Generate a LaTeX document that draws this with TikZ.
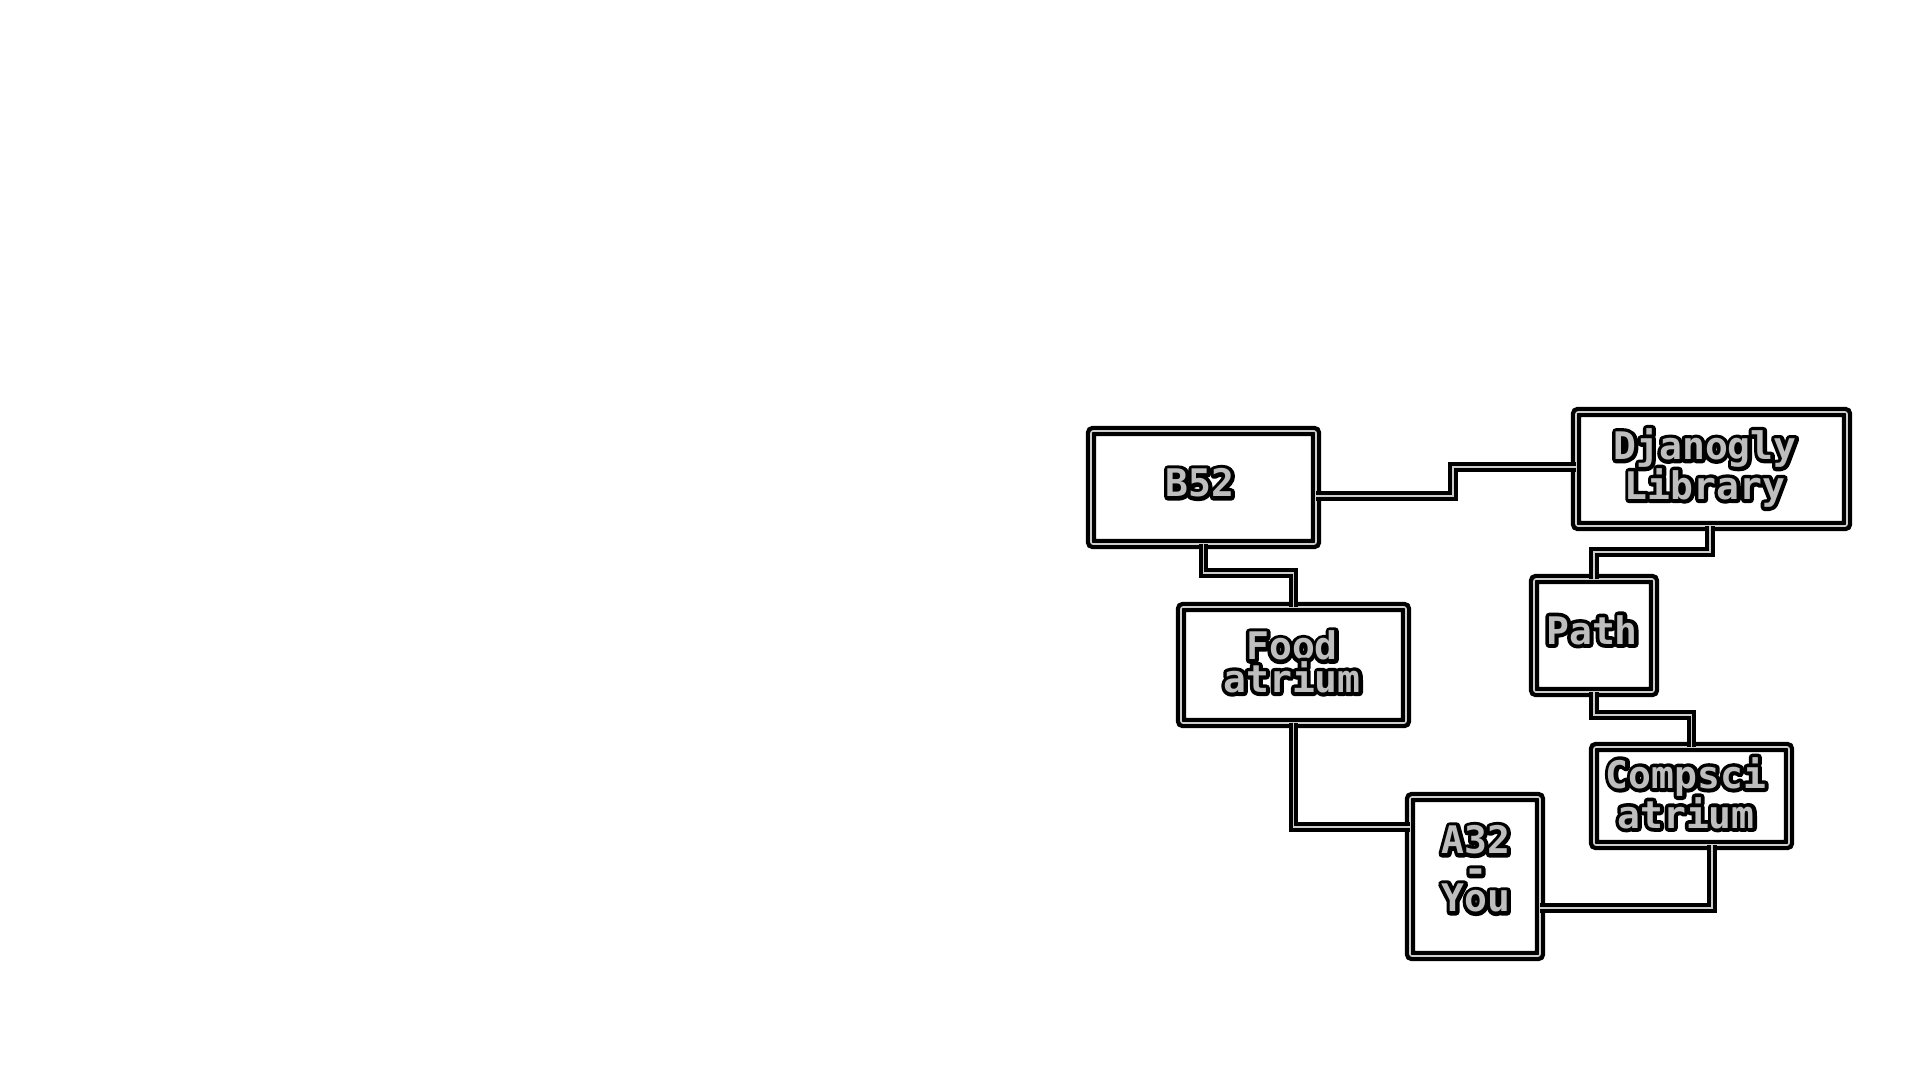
\documentclass[tikz,border=0pt]{standalone}
\usepackage{fontspec}
\newfontfamily\fo{DejaVu Sans Mono Bold}
\newfontfamily\fob{DejaVu Sans Mono Bold}[FakeBold=20]
\definecolor{tgray}{RGB}{190,190,190}
\definecolor{lgray}{RGB}{205,205,205}
\newcommand\otxt[1]{\sbox0{\color{tgray}\fo #1}\rlap{\makebox[\wd0][c]{\special{pdf:code 1 j}\color{black}\fob #1}}\usebox0}
\tikzset{
  boxnode/.style={draw=black, line width=4.3pt, double=lgray, double distance=1.6pt,
    rounded corners=2pt, inner sep=0pt, outer sep=0pt},
  lbl/.style={inner sep=0pt, align=center, font=\fontsize{38}{29}\selectfont},
  conn/.style={draw=black, line width=4pt, double=lgray, double distance=1.6pt}
}
\begin{document}
\begin{tikzpicture}[x=1pt,y=-1pt]
\useasboundingbox[fill=white] (0,0) rectangle (1920,1080);
\node[boxnode, minimum width=225pt, minimum height=113pt] (b52) at (1203.5,487.5) {};
\node[boxnode, minimum width=271pt, minimum height=114pt] (djan) at (1711.5,469) {};
\node[boxnode, minimum width=120pt, minimum height=113pt] (path) at (1594,635.5) {};
\node[boxnode, minimum width=225pt, minimum height=116pt] (food) at (1293.5,665) {};
\node[boxnode, minimum width=195pt, minimum height=98pt] (cs) at (1691.5,796) {};
\node[boxnode, minimum width=130pt, minimum height=159pt] (a32) at (1475,876.5) {};
\node[lbl] (b52t) at (1200,483) {\otxt{B52}};
\node[lbl] (djant) at (1705,468) {\otxt{Djanogly}\\\otxt{Library}};
\node[lbl] (patht) at (1592,630) {\otxt{Path}};
\node[lbl] (foodt) at (1292,662) {\otxt{Food}\\\otxt{atrium}};
\node[lbl] (cst) at (1686,793) {\otxt{Compsci}\\\otxt{atrium}};
\node[lbl] (a32t) at (1476,869) {\otxt{A32}\\\otxt{-}\\\otxt{You}};
\draw[conn] (b52.east |- 0,496) -| (1453,467) -- (djan.west |- 0,467);
\draw[conn] (djan.south -| 1710,0) |- (path.north |- 0,552) -- (path.north);
\draw[conn] (path.south) |- (cs.north |- 0,715) -- (cs.north);
\draw[conn] (cs.south -| 1712,0) |- (a32.east |- 0,908);
\draw[conn] (b52.south) |- (food.north |- 0,573) -- (food.north);
\draw[conn] (food.south) |- (a32.west |- 0,827);
\end{tikzpicture}
\end{document}
